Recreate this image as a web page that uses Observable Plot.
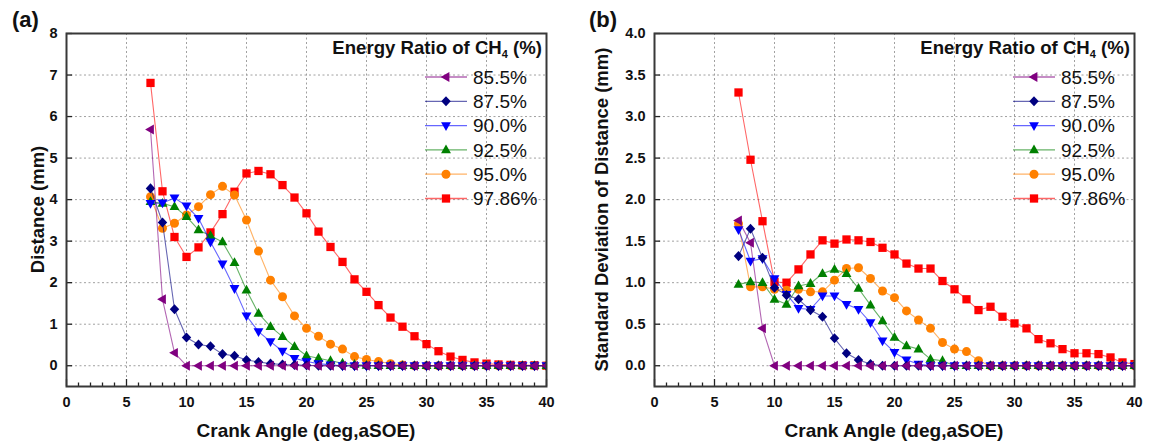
<!DOCTYPE html>
<html><head><meta charset="utf-8">
<script src="https://cdn.jsdelivr.net/npm/d3@7"></script>
<script src="https://cdn.jsdelivr.net/npm/@observablehq/plot@0.6"></script>
<style>
html,body{margin:0;padding:0;background:#fff;}
#root{position:relative;width:1159px;height:444px;overflow:hidden;font-family:Arial,"Liberation Sans",sans-serif;}
#root svg{position:absolute;top:0;}
</style></head><body><div id="root"></div>
<script>
// ---------- data ----------
const crankAngle = [7,8,9,10,11,12,13,14,15,16,17,18,19,20,21,22,23,24,25,26,27,28,29,30,31,32,33,34,35,36,37,38,39,40];
const seriesLabels = ["85.5%","87.5%","90.0%","92.5%","95.0%","97.86%"];

// (a) Distance (mm)
const distance855  = [5.69,1.60,0.31,0,0,0,0,0,0,0, 0,0,0,0,0,0,0,0,0,0, 0,0,0,0,0,0,0,0,0,0, 0,0,0,0];
const distance875  = [4.27,3.45,1.36,0.68,0.51,0.47,0.28,0.24,0.14,0.09, 0.05,0.03,0.02,0.01,0,0,0,0,0,0, 0,0,0,0,0,0,0,0,0,0, 0,0,0,0];
const distance900  = [3.91,3.92,4.04,3.85,3.55,2.98,2.45,1.86,1.20,0.82, 0.58,0.35,0.18,0.10,0.05,0.02,0,0,0,0, 0,0,0,0,0,0,0,0,0,0, 0,0,0,0];
const distance925  = [3.95,3.91,3.83,3.59,3.27,3.13,2.98,2.48,1.82,1.26, 0.94,0.70,0.46,0.24,0.18,0.12,0.06,0.03,0.01,0, 0,0,0,0,0,0,0,0,0,0, 0,0,0,0];
const distance950  = [4.07,3.31,3.43,3.63,3.83,4.12,4.32,4.11,3.51,2.76, 2.06,1.66,1.20,0.90,0.71,0.52,0.40,0.22,0.15,0.10, 0.05,0.02,0,0,0,0,0,0,0,0, 0,0,0,0];
const distance9786 = [6.81,4.20,3.10,2.62,2.85,3.21,3.65,4.19,4.63,4.69, 4.61,4.35,4.05,3.67,3.23,2.86,2.50,2.08,1.78,1.46, 1.16,0.94,0.71,0.52,0.35,0.22,0.14,0.08,0.05,0.03, 0.02,0.01,0.01,0.00];

// (b) Standard deviation of distance (mm)
const sd855  = [1.75,1.48,0.45,0,0,0,0,0,0,0, 0,0,0,0,0,0,0,0,0,0, 0,0,0,0,0,0,0,0,0,0, 0,0,0,0];
const sd875  = [1.32,1.65,1.30,0.94,0.85,0.80,0.67,0.59,0.33,0.15, 0.07,0.02,0,0,0,0,0,0,0,0, 0,0,0,0,0,0,0,0,0,0, 0,0,0,0];
const sd900  = [1.64,1.26,1.29,1.05,0.86,0.69,0.68,0.84,0.84,0.74, 0.68,0.52,0.30,0.16,0.07,0.02,0,0,0,0, 0,0,0,0,0,0,0,0,0,0, 0,0,0,0];
const sd925  = [0.98,1.01,1.00,0.80,0.74,0.96,0.99,1.11,1.16,1.11, 0.93,0.73,0.54,0.34,0.24,0.20,0.08,0.06,0,0, 0,0,0,0,0,0,0,0,0,0, 0,0,0,0];
const sd950  = [1.71,0.95,0.95,0.92,0.91,0.92,0.89,0.89,1.03,1.17, 1.18,1.05,0.90,0.82,0.66,0.55,0.45,0.28,0.20,0.17, 0.06,0,0,0,0,0,0,0,0,0, 0,0,0,0];
const sd9786 = [3.29,2.48,1.74,1.01,1.00,1.16,1.34,1.51,1.47,1.52, 1.51,1.49,1.42,1.34,1.23,1.17,1.17,1.02,0.92,0.80, 0.67,0.71,0.59,0.51,0.45,0.32,0.27,0.20,0.15,0.15, 0.14,0.10,0.04,0.02];

// ticks
const xTicksMajor = [0,5,10,15,20,25,30,35,40];
const xTicksMinor = [1,2,3,4,6,7,8,9,11,12,13,14,16,17,18,19,21,22,23,24,26,27,28,29,31,32,33,34,36,37,38,39];
const yTicksA = [0,1,2,3,4,5,6,7,8];
const yTicksB = [0,0.5,1.0,1.5,2.0,2.5,3.0,3.5,4.0];

// ---------- styles ----------
const colors = ["#800080","#000080","#0000ff","#008000","#ff8000","#ff0000"];
const sym = (f) => ({draw(c, size){ const r = Math.sqrt(size/Math.PI); f(c, r); }});
const symbols = [
  sym((c,r)=>{ c.moveTo(-1.2*r,0); c.lineTo(0.75*r,-1.1*r); c.lineTo(0.75*r,1.1*r); c.closePath(); }), // left triangle
  sym((c,r)=>{ c.moveTo(0,-1.12*r); c.lineTo(1.05*r,0); c.lineTo(0,1.12*r); c.lineTo(-1.05*r,0); c.closePath(); }), // diamond
  sym((c,r)=>{ c.moveTo(0,1.2*r); c.lineTo(1.1*r,-0.75*r); c.lineTo(-1.1*r,-0.75*r); c.closePath(); }), // down triangle
  sym((c,r)=>{ c.moveTo(0,-1.2*r); c.lineTo(1.1*r,0.75*r); c.lineTo(-1.1*r,0.75*r); c.closePath(); }), // up triangle
  sym((c,r)=>{ c.moveTo(r,0); c.arc(0,0,r,0,2*Math.PI); c.closePath(); }), // circle
  sym((c,r)=>{ const h=0.92*r; c.rect(-h,-h,2*h,2*h); }) // square
];
const R = 4.5;
const H = 444, MT = 33, MB = 58;
const FONT = 'Arial, "Liberation Sans", sans-serif';

function panel(seriesList, yDomain, yTicks, fmt, width, mL, mR) {
  const frameW = width - mL - mR, frameH = H - MT - MB;
  const marks = [
    Plot.gridX({ticks: xTicksMajor, stroke: "#a0a0a0", strokeOpacity: 1, strokeDasharray: "2,2.5", strokeWidth: 1}),
    Plot.gridY({ticks: yTicks, stroke: "#a0a0a0", strokeOpacity: 1, strokeDasharray: "2,2.5", strokeWidth: 1})
  ];
  // draw from last (97.86%) to first (85.5%) so 85.5% sits on top
  for (let s = seriesList.length - 1; s >= 0; s--) {
    const rows = crankAngle.map((x, i) => ({x, y: seriesList[s][i]}));
    marks.push(Plot.line(rows, {x: "x", y: "y", stroke: colors[s], strokeOpacity: 0.6, strokeWidth: 1.1, clip: true}));
    marks.push(Plot.dot(rows, {x: "x", y: "y", symbol: symbols[s], r: R, fill: colors[s], clip: true}));
  }
  marks.push(
    Plot.ruleX(xTicksMinor, {x: d => d, insetTop: frameH - 3.5, stroke: "#222", strokeWidth: 1.3}),
    Plot.ruleX(xTicksMajor, {x: d => d, insetTop: frameH - 7, stroke: "#222", strokeWidth: 1.3}),
    Plot.ruleY(yTicks, {y: d => d, insetRight: frameW - 6, stroke: "#222", strokeWidth: 1.3}),
    Plot.frame({stroke: "#383838", strokeWidth: 2}),
    Plot.axisX({ticks: xTicksMajor, tickSize: 0, tickPadding: 10, label: null, fontSize: 14.5, fontWeight: "bold"}),
    Plot.axisY({ticks: yTicks, tickSize: 0, tickPadding: 9, label: null, tickFormat: fmt, fontSize: 14.5, fontWeight: "bold"})
  );
  return Plot.plot({
    width, height: H, marginLeft: mL, marginRight: mR, marginTop: MT, marginBottom: MB,
    x: {domain: [0, 40]},
    y: {domain: yDomain},
    style: {fontFamily: FONT, fontSize: "14.5px", fontWeight: "bold", color: "#111", background: "transparent"},
    marks
  });
}

const root = document.getElementById("root");
const svgA = panel([distance855, distance875, distance900, distance925, distance950, distance9786],
  [-0.5, 8], yTicksA, d => d.toFixed(0), 580, 66, 34);
svgA.style.left = "0px";
root.appendChild(svgA);
const svgB = panel([sd855, sd875, sd900, sd925, sd950, sd9786],
  [-0.25, 4], yTicksB, d => d.toFixed(1), 579, 74, 25);
svgB.style.left = "580px";
root.appendChild(svgB);

// ---------- overlay: titles and legends ----------
const ov = d3.select(root).append("svg").attr("width", 1159).attr("height", 444)
  .style("left", "0px").style("font-family", FONT).style("fill", "#111");

ov.append("text").attr("x", 12).attr("y", 27).attr("font-size", 22).attr("font-weight", "bold").text("(a)");
ov.append("text").attr("x", 589).attr("y", 27).attr("font-size", 22).attr("font-weight", "bold").text("(b)");

const xTitle = "Crank Angle (deg,aSOE)";
[306, 894].forEach(cx => ov.append("text").attr("x", cx).attr("y", 437).attr("text-anchor", "middle")
  .attr("font-size", 19).attr("font-weight", "bold").text(xTitle));

[[44, "Distance (mm)"], [608, "Standard Deviation of Distance (mm)"]].forEach(([bx, t]) =>
  ov.append("text").attr("transform", `translate(${bx},209.5) rotate(-90)`).attr("text-anchor", "middle")
    .attr("font-size", 18.5).attr("font-weight", "bold").text(t));

[546, 1134].forEach(fr => {
  const g = ov.append("g");
  const t = g.append("text").attr("x", fr - 4).attr("y", 54).attr("text-anchor", "end")
    .attr("font-size", 18.6).attr("font-weight", "bold");
  t.append("tspan").text("Energy Ratio of CH");
  t.append("tspan").attr("font-size", 11).attr("dy", 4).text("4");
  t.append("tspan").attr("dy", -4).text(" (%)");
  seriesLabels.forEach((lab, i) => {
    const y = 77 + i * 24.3;
    g.append("line").attr("x1", fr - 121).attr("x2", fr - 79).attr("y1", y).attr("y2", y)
      .attr("stroke", colors[i]).attr("stroke-opacity", 0.6).attr("stroke-width", 1.3);
    g.append("path").attr("transform", `translate(${fr - 100},${y})`)
      .attr("d", d3.symbol().type(symbols[i]).size(Math.PI * R * R)()).attr("fill", colors[i]);
    g.append("text").attr("x", fr - 73).attr("y", y + 6.8).attr("font-size", 19).text(lab);
  });
});
</script></body></html>
